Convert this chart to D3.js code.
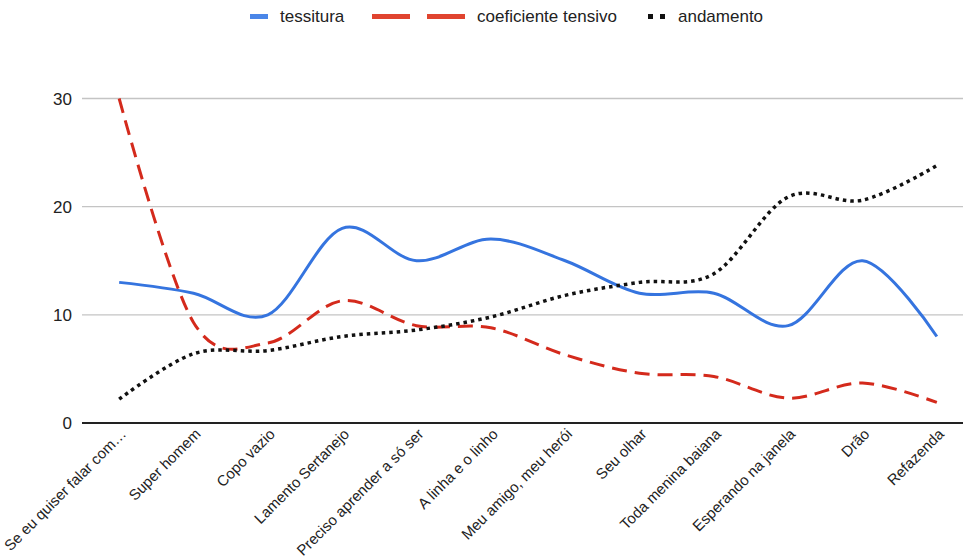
<!DOCTYPE html>
<html>
<head>
<meta charset="utf-8">
<script src="https://cdn.jsdelivr.net/npm/d3@7"></script>
<style>
  body { margin: 0; background: #fff; }
  svg { display: block; font-family: "Liberation Sans", Arial, sans-serif; }
</style>
</head>
<body>
<svg id="chart" width="963" height="558"></svg>
<script>
// Songs on the x axis
const categories = [
  "Se eu quiser falar com Deus", "Super homem", "Copo vazio", "Lamento Sertanejo",
  "Preciso aprender a só ser", "A linha e o linho", "Meu amigo, meu herói",
  "Seu olhar", "Toda menina baiana", "Esperando na janela", "Drão", "Refazenda"
];
const tessitura = [13, 12, 10, 18, 15, 17, 15, 12, 12, 9, 15, 8];
const coeficienteTensivo = [30, 9.3, 7.4, 11.3, 9, 8.8, 6.3, 4.6, 4.3, 2.3, 3.7, 1.9];
const andamento = [2.2, 6.4, 6.7, 8, 8.6, 9.8, 11.8, 13, 13.8, 20.9, 20.6, 23.8];
const yTicks = [0, 10, 20, 30];

const svg = d3.select("#chart");
const plotLeft = 82, plotRight = 974, plotTop = 98.5, plotBottom = 423;

const x = d3.scalePoint().domain(categories).range([plotLeft, plotRight]).padding(0.5);
const y = d3.scaleLinear().domain([0, 30]).range([plotBottom, plotTop]);

// gridlines and y labels
svg.append("g").selectAll("line").data(yTicks.filter(d => d > 0)).join("line")
  .attr("x1", plotLeft).attr("x2", 963)
  .attr("y1", d => y(d)).attr("y2", d => y(d))
  .attr("stroke", "#c4c4c4").attr("stroke-width", 1.3);

svg.append("g").selectAll("text").data(yTicks).join("text")
  .attr("x", 72).attr("y", d => y(d)).attr("dy", "0.36em")
  .attr("text-anchor", "end").attr("font-size", 17).attr("fill", "#222")
  .text(d => d);

// baseline
svg.append("line").attr("x1", plotLeft).attr("x2", 963)
  .attr("y1", y(0)).attr("y2", y(0)).attr("stroke", "#222").attr("stroke-width", 2);

// x labels, truncated when too long
function shortLabel(s) { return s.length > 25 ? s.slice(0, 22) + "…" : s; }
svg.append("g").selectAll("text").data(categories).join("text")
  .attr("transform", d => `translate(${x(d) + 8},${plotBottom + 12}) rotate(-45)`)
  .attr("text-anchor", "end").attr("font-size", 15).attr("fill", "#222")
  .text(d => shortLabel(d));

const line = d3.line().x((d, i) => x(categories[i])).y(d => y(d)).curve(d3.curveCardinal.tension(0));

svg.append("path").datum(tessitura).attr("d", line)
  .attr("fill", "none").attr("stroke", "#3574df").attr("stroke-width", 3);
svg.append("path").datum(coeficienteTensivo).attr("d", line)
  .attr("fill", "none").attr("stroke", "#d42a1c").attr("stroke-width", 3)
  .attr("stroke-dasharray", "15,8");
svg.append("path").datum(andamento).attr("d", line)
  .attr("fill", "none").attr("stroke", "#111").attr("stroke-width", 3.5)
  .attr("stroke-dasharray", "3.5,4");

// legend
const lg = svg.append("g").attr("font-size", 17).attr("fill", "#222");
lg.append("rect").attr("x", 250).attr("y", 14).attr("width", 18).attr("height", 5).attr("fill", "#4a86e8");
lg.append("text").attr("x", 280).attr("y", 16).attr("dy", "0.36em").text("tessitura");
lg.append("rect").attr("x", 372).attr("y", 14).attr("width", 38).attr("height", 5).attr("fill", "#e0442f");
lg.append("rect").attr("x", 427).attr("y", 14).attr("width", 38).attr("height", 5).attr("fill", "#e0442f");
lg.append("text").attr("x", 477).attr("y", 16).attr("dy", "0.36em").text("coeficiente tensivo");
lg.append("rect").attr("x", 648).attr("y", 14).attr("width", 5).attr("height", 5).attr("fill", "#111");
lg.append("rect").attr("x", 660).attr("y", 14).attr("width", 5).attr("height", 5).attr("fill", "#111");
lg.append("text").attr("x", 678).attr("y", 16).attr("dy", "0.36em").text("andamento");
</script>
</body>
</html>
